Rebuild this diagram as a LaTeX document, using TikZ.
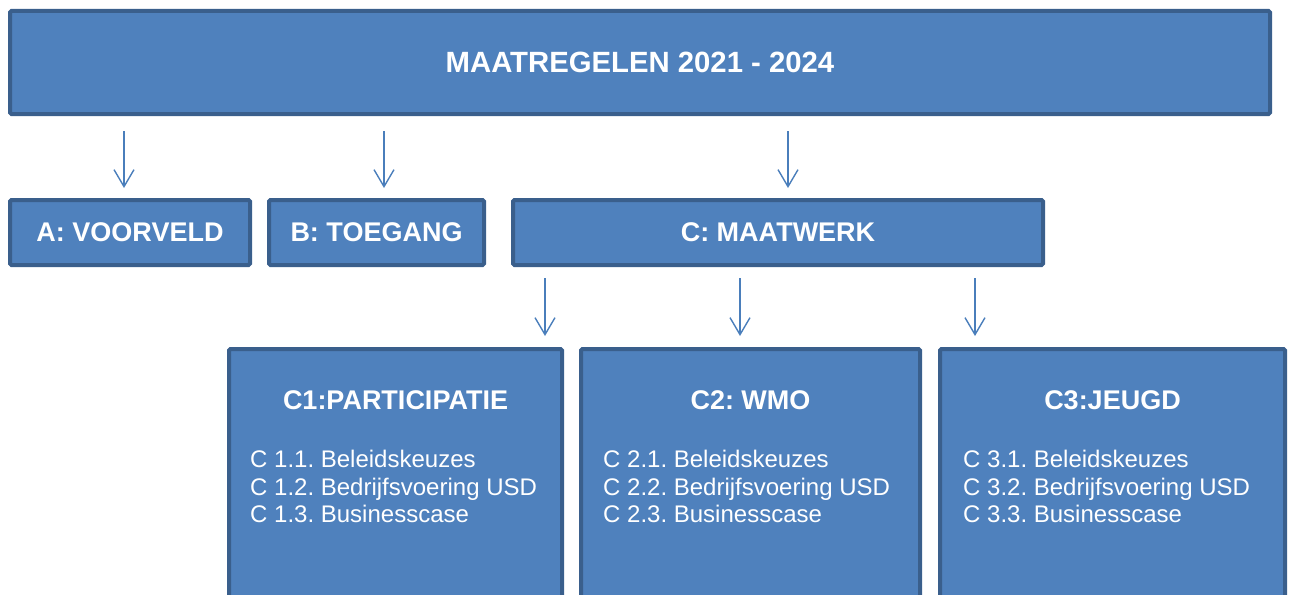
\documentclass[tikz,border=0pt]{standalone}
\usepackage{fontspec}
\setmainfont{Liberation Sans}
\usepackage{xcolor}
\usepackage{tikz}
\usetikzlibrary{arrows.meta, positioning}
\frenchspacing

\definecolor{boxfill}{HTML}{4F81BD}
\definecolor{boxline}{HTML}{3A5F8C}
\definecolor{arrowcol}{HTML}{4A7EBB}

\begin{document}
\begin{tikzpicture}[x=1pt, y=-1pt,
  box/.style={draw=boxline, fill=boxfill, line width=4pt, rounded corners=1.5pt, inner sep=0pt, text=white, font=\fontsize{27}{30}\selectfont\bfseries},
  item/.style={anchor=north west, inner sep=0pt, align=left, text=white, font=\fontsize{24}{27.5}\selectfont},
  head/.style={anchor=base, inner sep=0pt, text=white, font=\fontsize{27}{30}\selectfont\bfseries},
  arr/.style={draw=arrowcol, line width=1.4pt, -{Straight Barb[length=17pt, width=20pt]}}]
  \useasboundingbox (0,0) rectangle (1289,594);
  \clip (0,0) rectangle (1289,594);

  % top row
  \node[box, minimum width=1260pt, minimum height=103pt, font=\fontsize{29.3}{32}\selectfont\bfseries] (top) at (640,62.5) {MAATREGELEN 2021 - 2024};

  % second row
  \node[box, minimum width=240pt, minimum height=65pt] (voorveld) at (130,232.5) {A: VOORVELD};
  \node[box, minimum width=215pt, minimum height=65pt] (toegang) at (376.5,232.5) {B: TOEGANG};
  \node[box, minimum width=530pt, minimum height=65pt] (maatwerk) at (778,232.5) {C: MAATWERK};

  % third row, runs off the bottom
  \node[box, minimum width=333pt, minimum height=291pt] (part) at (395.5,494.5) {};
  \node[box, minimum width=339pt, minimum height=291pt] (wmo) at (750.5,494.5) {};
  \node[box, minimum width=345pt, minimum height=291pt] (jeugd) at (1112.5,494.5) {};

  \node[head] (parthead) at ([yshift=-62pt]part.north) {C1:PARTICIPATIE};
  \node[head] (wmohead) at ([yshift=-62pt]wmo.north) {C2: WMO};
  \node[head] (jeugdhead) at ([yshift=-62pt]jeugd.north) {C3:JEUGD};

  \node[item] (partitems) at ([xshift=23pt, yshift=-103pt]part.north west) {C 1.1. Beleidskeuzes\\C 1.2. Bedrijfsvoering USD\\C 1.3. Businesscase};
  \node[item] (wmoitems) at ([xshift=24pt, yshift=-103pt]wmo.north west) {C 2.1. Beleidskeuzes\\C 2.2. Bedrijfsvoering USD\\C 2.3. Businesscase};
  \node[item] (jeugditems) at ([xshift=25pt, yshift=-103pt]jeugd.north west) {C 3.1. Beleidskeuzes\\C 3.2. Bedrijfsvoering USD\\C 3.3. Businesscase};

  % arrows
  \draw[arr, shorten <=15pt, shorten >=10pt] (top.south -| 124,0) -- (voorveld.north -| 124,0);
  \draw[arr, shorten <=15pt, shorten >=10pt] (top.south -| 384,0) -- (toegang.north -| 384,0);
  \draw[arr, shorten <=15pt, shorten >=10pt] (top.south -| 788,0) -- (maatwerk.north -| 788,0);
  \draw[arr, shorten <=11pt, shorten >=11pt] (maatwerk.south -| 545,0) -- (part.north -| 545,0);
  \draw[arr, shorten <=11pt, shorten >=11pt] (maatwerk.south -| 740,0) -- (wmo.north -| 740,0);
  \draw[arr, shorten <=11pt, shorten >=11pt] (maatwerk.south -| 975,0) -- (jeugd.north -| 975,0);
\end{tikzpicture}
\end{document}
